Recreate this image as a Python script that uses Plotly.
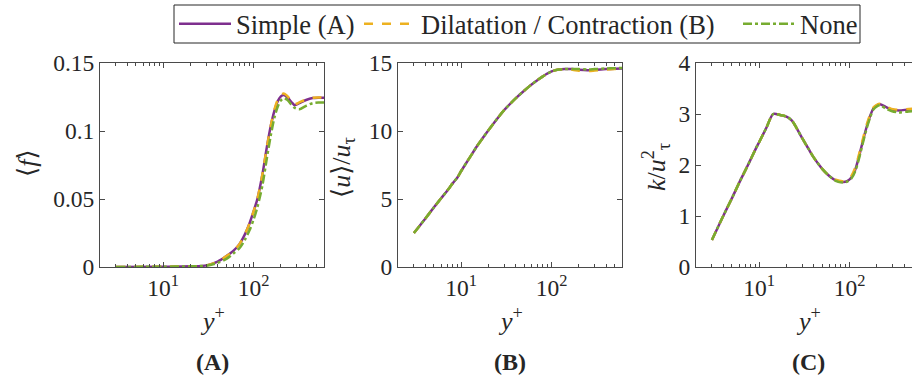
import numpy as np
import plotly.graph_objects as go

W, H = 912, 381

# ---------------- data ----------------
# Panel (A): <f> vs y+
yp_f = [3, 10, 20, 30, 40, 50, 60, 70, 80, 90, 100, 110, 125, 140, 155, 170,
        185, 200, 215, 235, 260, 285, 320, 380, 450, 520, 600]
f_simple = [0.0, 0.0002, 0.0005, 0.0012, 0.004, 0.008, 0.012, 0.017, 0.024, 0.032,
            0.041, 0.050, 0.068, 0.088, 0.104, 0.115, 0.122, 0.1255, 0.1265, 0.125,
            0.1215, 0.119, 0.1205, 0.1228, 0.1242, 0.1245, 0.1245]
f_dil = [0.0, 0.0002, 0.0005, 0.0012, 0.004, 0.008, 0.012, 0.017, 0.024, 0.032,
         0.041, 0.050, 0.068, 0.088, 0.104, 0.116, 0.123, 0.1265, 0.1275, 0.1258,
         0.1222, 0.1198, 0.121, 0.1232, 0.1244, 0.1246, 0.1245]
f_none = [0.0, 0.0002, 0.0005, 0.0010, 0.003, 0.006, 0.010, 0.014, 0.020, 0.027,
          0.035, 0.044, 0.060, 0.080, 0.097, 0.110, 0.118, 0.1225, 0.124, 0.123,
          0.1195, 0.117, 0.116, 0.1185, 0.1205, 0.121, 0.121]

# Panel (B): <u>/u_tau vs y+
yp_u = [3, 4, 5, 6, 7, 8, 9, 10, 12, 15, 20, 25, 30, 40, 50, 60, 70, 80, 100,
        120, 140, 170, 200, 250, 300, 400, 500, 600]
u_simple = [2.5, 3.55, 4.39, 5.05, 5.61, 6.13, 6.55, 7.06, 7.89, 8.9, 10.05, 10.9,
            11.55, 12.4, 12.98, 13.42, 13.75, 14.02, 14.38, 14.52, 14.56, 14.55,
            14.5, 14.47, 14.5, 14.55, 14.58, 14.6]
u_dil = [2.5, 3.55, 4.39, 5.05, 5.61, 6.13, 6.55, 7.06, 7.89, 8.9, 10.05, 10.9,
         11.55, 12.4, 12.98, 13.42, 13.75, 14.02, 14.38, 14.52, 14.55, 14.5,
         14.43, 14.4, 14.44, 14.52, 14.56, 14.58]
u_none = [2.5, 3.55, 4.39, 5.05, 5.61, 6.13, 6.55, 7.06, 7.89, 8.9, 10.05, 10.9,
          11.55, 12.4, 12.98, 13.42, 13.75, 14.02, 14.38, 14.52, 14.56, 14.56,
          14.55, 14.52, 14.55, 14.6, 14.62, 14.63]

# Panel (C): k/u_tau^2 vs y+
yp_k = [3, 4, 5, 6, 7, 8, 9.4, 10, 12, 14.3, 17, 20, 23, 26, 30, 35, 40, 50, 60,
        70, 85, 95, 105, 115, 125, 141, 155, 170, 182, 200, 217, 250, 290, 350,
        450, 600]
k_simple = [0.53, 1.0, 1.35, 1.65, 1.89, 2.1, 2.36, 2.45, 2.73, 3.0, 2.98, 2.95,
            2.87, 2.72, 2.52, 2.32, 2.15, 1.92, 1.78, 1.70, 1.665, 1.69, 1.76,
            1.9, 2.12, 2.49, 2.76, 2.98, 3.1, 3.17, 3.19, 3.14, 3.09, 3.07, 3.09,
            3.1]
k_dil = [0.53, 1.0, 1.35, 1.65, 1.89, 2.1, 2.36, 2.45, 2.73, 3.0, 2.98, 2.95,
         2.87, 2.72, 2.52, 2.32, 2.15, 1.92, 1.78, 1.71, 1.68, 1.71, 1.79,
         1.94, 2.16, 2.53, 2.8, 3.01, 3.12, 3.18, 3.2, 3.15, 3.1, 3.08, 3.1,
         3.11]
k_none = [0.53, 1.0, 1.35, 1.65, 1.89, 2.1, 2.36, 2.45, 2.73, 3.0, 2.98, 2.95,
          2.87, 2.72, 2.52, 2.32, 2.15, 1.92, 1.78, 1.69, 1.655, 1.68, 1.74,
          1.87, 2.08, 2.45, 2.73, 2.95, 3.08, 3.15, 3.17, 3.11, 3.06, 3.03, 3.05,
          3.06]

series_names = ["Simple (A)", "Dilatation / Contraction (B)", "None"]
colors = ["#7E2F8E", "#EDB120", "#77AC30"]
dashes = ["solid", "dash", "dashdot"]

y_ticks = [[0, 0.05, 0.1, 0.15], [0, 5, 10, 15], [0, 1, 2, 3, 4]]
y_ranges = [[0, 0.15], [0, 15], [0, 4]]
y_titles = ["⟨<i>f</i>⟩", "⟨<i>u</i>⟩/<i>u</i><sub>τ</sub>",
            "<i>k</i>/<i>u</i><sup>2</sup><sub>τ</sub>"]
panel_labels = ["(A)", "(B)", "(C)"]
x_tickvals = [10, 100]
x_ticktext = ["10<sup>1</sup>", "10<sup>2</sup>"]
x_minor = [3, 4, 5, 6, 7, 8, 9, 20, 30, 40, 50, 60, 70, 80, 90, 200, 300, 400, 500]

panels = [
    (yp_f, [f_simple, f_dil, f_none]),
    (yp_u, [u_simple, u_dil, u_none]),
    (yp_k, [k_simple, k_dil, k_none]),
]

# ---------------- layout geometry (pixels) ----------------
left_px = [100, 398, 696]
panel_w = 224
top_px, bot_px = 63, 267
x_lo = np.log10(2)
x_hi = np.log10(600)
px_per_dec = panel_w / (x_hi - x_lo)
leg_box = (174, 860, 5, 43)          # left, right, top, bottom of legend frame
leg_item_x = [174, 359, 738]         # left of each legend entry

FONT = "Liberation Serif, Tinos, Times New Roman, DejaVu Serif, serif"
AX_COL = "#4a4a4a"
TXT_COL = "#262626"
leg_names = ["legend", "legend2", "legend3"]

fig = go.Figure()
for i, (xs, ys_list) in enumerate(panels):
    for j, ys in enumerate(ys_list):
        fig.add_trace(go.Scatter(
            x=xs, y=ys, mode="lines", name=series_names[j],
            line=dict(color=colors[j], width=2.5, dash=dashes[j],
                      shape="spline", smoothing=0.8),
            showlegend=(i == 0), legendgroup=series_names[j],
            legend=leg_names[j],
            xaxis="x" if i == 0 else f"x{i+1}",
            yaxis="y" if i == 0 else f"y{i+1}",
        ))

layout = dict(
    width=W, height=H, margin=dict(l=0, r=0, t=0, b=0, autoexpand=False),
    paper_bgcolor="white", plot_bgcolor="white",
    font=dict(family=FONT, color=TXT_COL, size=22),
    showlegend=True,
    shapes=[dict(type="rect", xref="paper", yref="paper",
                 x0=leg_box[0] / W, x1=leg_box[1] / W,
                 y0=1 - leg_box[3] / H, y1=1 - leg_box[2] / H,
                 line=dict(color="#262626", width=1), fillcolor="rgba(0,0,0,0)")],
)
for j, ln in enumerate(leg_names):
    layout[ln] = dict(orientation="h", x=leg_item_x[j] / W,
                      y=1 - (leg_box[2] + leg_box[3]) / 2 / H, xanchor="left",
                      yanchor="middle", borderwidth=0,
                      font=dict(family=FONT, size=26.5, color=TXT_COL),
                      bgcolor="rgba(0,0,0,0)", tracegroupgap=0, itemwidth=52)

annotations = []
for i in range(3):
    xl = left_px[i]
    xr = min(xl + panel_w, W)
    hi = x_hi if xl + panel_w <= W else x_lo + (W - xl) / px_per_dec
    sfx = "" if i == 0 else str(i + 1)
    layout[f"xaxis{sfx}"] = dict(
        type="log", domain=[xl / W, xr / W], range=[x_lo, hi],
        anchor=f"y{sfx}", showline=True, linecolor=AX_COL, linewidth=1,
        mirror="allticks", ticks="inside", ticklen=5, tickcolor=AX_COL,
        tickvals=x_tickvals, ticktext=x_ticktext, showgrid=False, zeroline=False,
        tickfont=dict(size=23.5, family=FONT, color=TXT_COL), automargin=False,
        minor=dict(tickvals=x_minor, ticks="inside", ticklen=3, tickcolor=AX_COL,
                   showgrid=False),
    )
    layout[f"yaxis{sfx}"] = dict(
        domain=[1 - bot_px / H, 1 - top_px / H], range=y_ranges[i],
        anchor=f"x{sfx}", showline=True, linecolor=AX_COL, linewidth=1,
        mirror="allticks" if i < 2 else False, ticks="inside", ticklen=5,
        tickcolor=AX_COL, tickvals=y_ticks[i], showgrid=False, zeroline=False,
        tickfont=dict(size=23.5, family=FONT, color=TXT_COL), automargin=False,
    )
    cx = (xl + xl + panel_w) / 2
    annotations.append(dict(text="<i>y</i><sup>+</sup>", x=cx / W, y=1 - 319 / H,
                            xref="paper", yref="paper", showarrow=False,
                            xanchor="center", yanchor="middle",
                            font=dict(size=26, family=FONT, color=TXT_COL)))
    annotations.append(dict(text=f"<b>{panel_labels[i]}</b>", x=cx / W, y=1 - 362 / H,
                            xref="paper", yref="paper", showarrow=False,
                            xanchor="center", yanchor="middle",
                            font=dict(size=24, family=FONT, color=TXT_COL)))

ytitle_pos = [(27, 163), (343, 168), (656, 167)]
for i, (px, py) in enumerate(ytitle_pos):
    annotations.append(dict(text=y_titles[i], x=px / W, y=1 - py / H,
                            xref="paper", yref="paper", showarrow=False,
                            xanchor="center", yanchor="middle", textangle=-90,
                            font=dict(size=26, family=FONT, color=TXT_COL)))
layout["annotations"] = annotations
fig.update_layout(**layout)
fig.write_html("out.html")
